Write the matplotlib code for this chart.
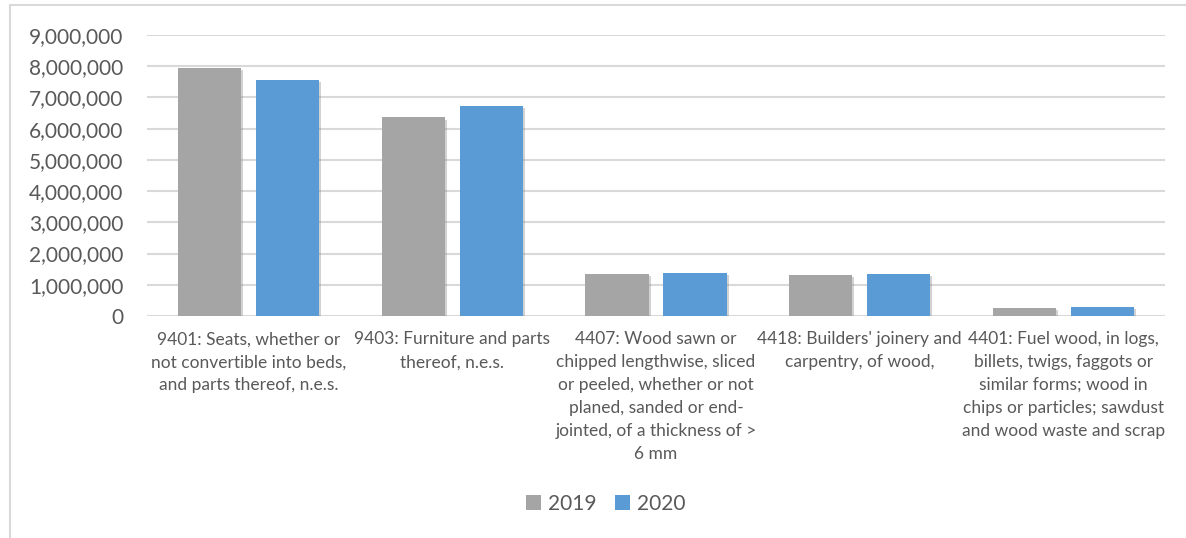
import matplotlib
matplotlib.use("Agg")
import matplotlib.pyplot as plt
import matplotlib.patheffects as pe
from matplotlib.lines import Line2D
from matplotlib.patches import Patch
import numpy as np

plt.rcParams['font.family'] = ['Lato', 'DejaVu Sans']

categories = [
    "9401: Seats, whether or\nnot convertible into beds,\nand parts thereof, n.e.s.",
    "9403: Furniture and parts\nthereof, n.e.s.",
    "4407: Wood sawn or\nchipped lengthwise, sliced\nor peeled, whether or not\nplaned, sanded or end-\njointed, of a thickness of >\n6 mm",
    "4418: Builders' joinery and\ncarpentry, of wood,",
    "4401: Fuel wood, in logs,\nbillets, twigs, faggots or\nsimilar forms; wood in\nchips or particles; sawdust\nand wood waste and scrap",
]
values_2019 = [7940000, 6360000, 1360000, 1310000, 260000]
values_2020 = [7560000, 6730000, 1390000, 1350000, 300000]
series_names = ["2019", "2020"]
y_ticks = [0, 1000000, 2000000, 3000000, 4000000, 5000000, 6000000, 7000000, 8000000, 9000000]

gray = "#A5A5A5"
blue = "#5B9BD5"
text_col = "#595959"
grid_col = "#D9D9D9"

W, H = 1186, 538
fig = plt.figure(figsize=(W / 100, H / 100), dpi=100)

# chart frame (left and top edges)
fig.add_artist(Line2D([10 / W, 10 / W], [0, 1 - 5 / H], color=grid_col, lw=1.5))
fig.add_artist(Line2D([10 / W, 1], [1 - 5 / H, 1 - 5 / H], color=grid_col, lw=1.5))

ax = fig.add_axes([147 / W, 1 - 316 / H, (1165 - 147) / W, (316 - 35) / H])

x = np.arange(len(categories))
bw = 0.31
off = 0.383
shadow = [pe.SimplePatchShadow(offset=(1.5, -1.5), shadow_rgbFace="#7f7f7f", alpha=0.35), pe.Normal()]
b1 = ax.bar(x - off / 2, values_2019, width=bw, color=gray, zorder=3)
b2 = ax.bar(x + off / 2, values_2020, width=bw, color=blue, zorder=3)
for p in list(b1) + list(b2):
    p.set_path_effects(shadow)

ax.set_xlim(-0.5, len(categories) - 0.5)
ax.set_ylim(0, 9000000)
ax.set_yticks(y_ticks)
ax.set_yticklabels([f"{v:,}" for v in y_ticks])
ax.yaxis.grid(True, color=grid_col, lw=1.5, zorder=0)
ax.set_axisbelow(True)
for s in ax.spines.values():
    s.set_visible(False)
ax.tick_params(axis='y', length=0, pad=17, labelsize=15, labelcolor=text_col)
ax.set_xticks(x)
ax.set_xticklabels(categories, fontsize=12.5, color=text_col, linespacing=1.53)
ax.tick_params(axis='x', length=0, pad=11)

handles = [Patch(facecolor=gray), Patch(facecolor=blue)]
fig.legend(handles, series_names, loc='center', bbox_to_anchor=(606 / W, 1 - 504 / H),
           ncol=2, frameon=False, fontsize=15, handlelength=0.7, handleheight=0.7,
           handletextpad=0.35, columnspacing=0.9, labelcolor=text_col)

fig.savefig("out.png", dpi=100)
